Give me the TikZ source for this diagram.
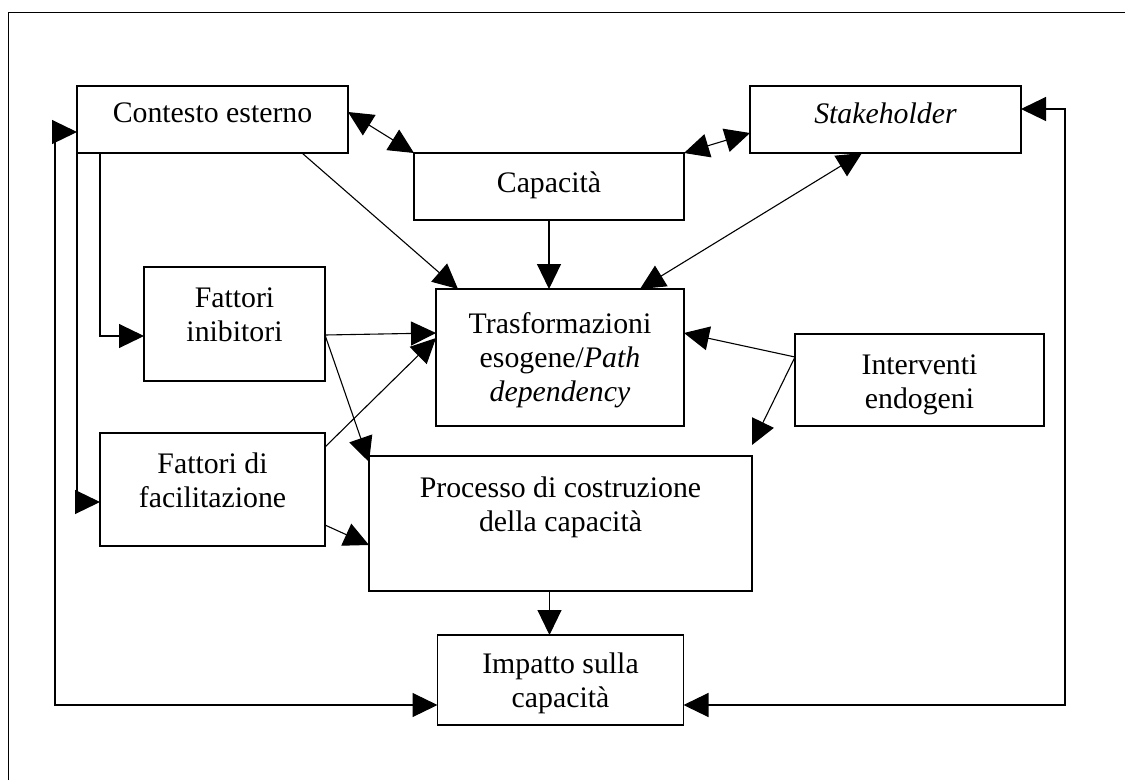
\documentclass[tikz,border=0pt]{standalone}
\usepackage{fontspec}
\setmainfont{Liberation Serif}
\usetikzlibrary{arrows.meta,calc}
\begin{document}
\begin{tikzpicture}[x=1pt,y=-1pt,
  box/.style={draw, line width=1.1pt, inner sep=0pt, outer sep=0pt},
  txt/.style={anchor=north, align=center, inner sep=0pt, font=\fontsize{29.8pt}{34pt}\selectfont},
  con/.style={line width=1.1pt},
  >={Triangle[length=25pt,width=24pt]}]
\useasboundingbox (0,0) rectangle (1125,780);
\draw[line width=1pt] (8,780) -- (8,12) -- (1125,12);
% boxes
\node[box, minimum width=271pt, minimum height=67pt]  (ctx)   at (212.5,119.5) {};
\node[box, minimum width=270pt, minimum height=67pt]  (cap)   at (549,186.5) {};
\node[box, minimum width=271pt, minimum height=67pt]  (stake) at (885.5,119.5) {};
\node[box, minimum width=181pt, minimum height=114pt] (fi)    at (234.5,324) {};
\node[box, minimum width=225pt, minimum height=113pt] (ffac)  at (212.5,489.5) {};
\node[box, minimum width=248pt, minimum height=137pt] (tr)    at (560,357.5) {};
\node[box, minimum width=383pt, minimum height=135pt] (proc)  at (560.5,523.5) {};
\node[box, minimum width=249pt, minimum height=92pt]  (iv)    at (919.5,380) {};
\node[box, minimum width=246pt, minimum height=90pt]  (imp)   at (560.5,680) {};
% texts
\node[txt] (ctxT)   at ([yshift=-17pt]ctx.north)   {Contesto esterno};
\node[txt] (capT)   at ([yshift=-19pt]cap.north)   {Capacità};
\node[txt] (stakeT) at ([yshift=-17pt]stake.north) {\textit{Stakeholder}};
\node[txt] (fiT)    at ([yshift=-21pt]fi.north)    {Fattori\\inibitori};
\node[txt] (ffacT)  at ([yshift=-20pt]ffac.north)  {Fattori di\\facilitazione};
\node[txt] (trT)    at ([yshift=-23pt]tr.north)    {Trasformazioni\\esogene/\textit{Path}\\\textit{dependency}};
\node[txt] (procT)  at ([yshift=-21pt]proc.north)  {Processo di costruzione\\della capacità};
\node[txt] (ivT)    at ([yshift=-21pt]iv.north)    {Interventi\\endogeni};
\node[txt] (impT)   at ([yshift=-18pt]imp.north)   {Impatto sulla\\capacità};
% connectors
\draw[con,<->] ([yshift=7.5pt]ctx.east) -- (cap.north west);
\draw[con,<->] (cap.north east) -- ([yshift=-13.5pt]stake.west);
\draw[con,->] ([xshift=89.5pt]ctx.south) -- ([xshift=22pt]tr.north west);
\draw[con,->] (cap.south) -- (cap.south |- tr.north);
\draw[con,<->] ([xshift=-44pt]tr.north east) -- ([xshift=-23.5pt]stake.south);
\coordinate (fiO) at ([yshift=-11pt]fi.east);
\draw[con,->] (fiO) -- ([yshift=24.5pt]tr.west);
\draw[con,->] (fiO) -- ([yshift=-6pt]proc.north west);
\draw[con,->] ([yshift=-14pt]ffac.north east) -- ([yshift=19.5pt]tr.west);
\draw[con,->] ([yshift=-35.5pt]ffac.east) -- ([yshift=-21.5pt]proc.west);
\coordinate (ivO) at ([yshift=23pt]iv.west);
\draw[con,->] (ivO) -- ([yshift=24.5pt]tr.east);
\draw[con,->] (ivO) -- ([yshift=11pt]proc.north east);
\draw[con,->] ([xshift=-11pt]proc.south) -- ([xshift=-11pt]proc.south |- imp.north);
\draw[con,->] (ctx.south west) |- ([yshift=-12.5pt]ffac.west);
\draw[con,->] ([xshift=23pt]ctx.south west) |- ([yshift=-12pt]fi.west);
\draw[con,<->] ([yshift=-12.5pt]ctx.west) -- ++(-22,0) |- ([yshift=-25pt]imp.west);
\draw[con,<->] ([yshift=10.5pt]stake.east) -- ++(44,0) |- ([yshift=-25pt]imp.east);
\end{tikzpicture}
\end{document}
